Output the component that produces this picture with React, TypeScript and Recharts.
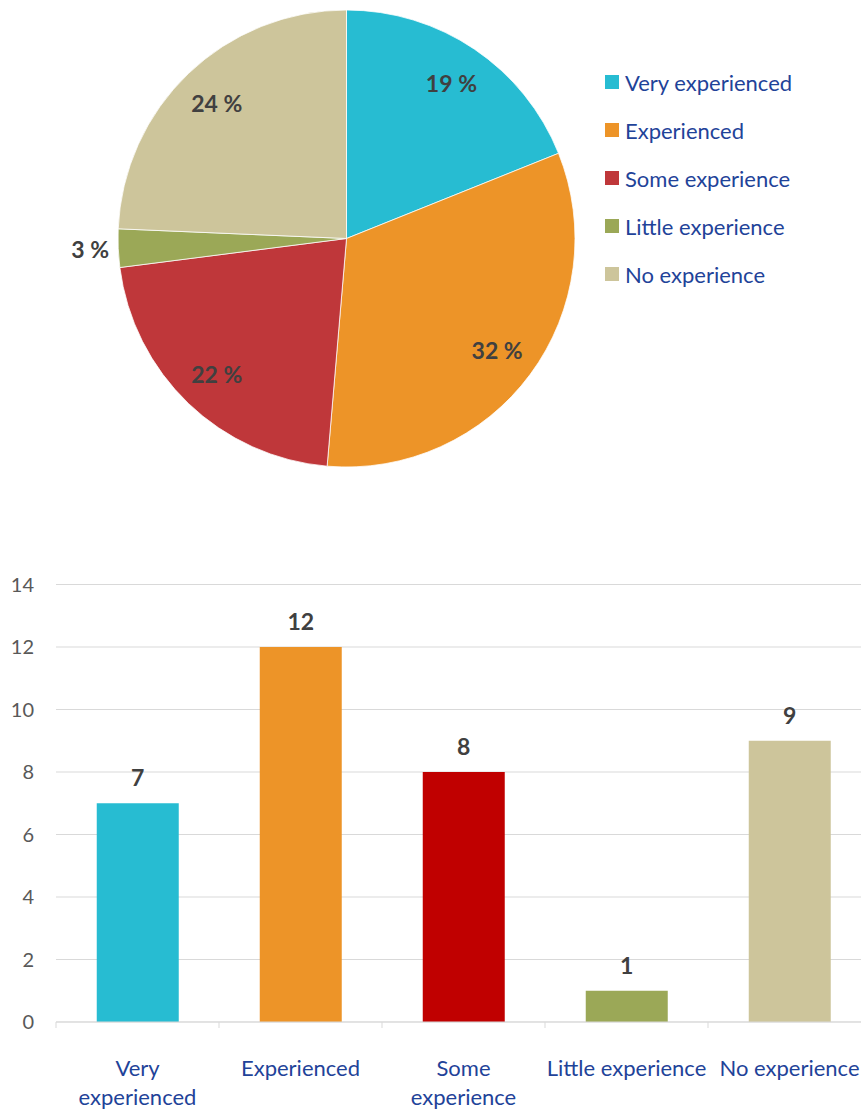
import React from "react";
import {
  PieChart,
  Pie,
  Cell,
  Legend,
  BarChart,
  Bar,
  XAxis,
  YAxis,
  CartesianGrid,
  LabelList,
} from "recharts";

const categories = [
  "Very experienced",
  "Experienced",
  "Some experience",
  "Little experience",
  "No experience",
];
const counts = [7, 12, 8, 1, 9];
const pieColors = ["#27BCD2", "#ED9428", "#BF373A", "#9BA857", "#CDC59B"];
const barColors = ["#27BCD2", "#ED9428", "#C00000", "#9BA857", "#CDC59B"];
const tickLines = [
  ["Very", "experienced"],
  ["Experienced"],
  ["Some", "experience"],
  ["Little experience"],
  ["No experience"],
];
const yTicks = [0, 2, 4, 6, 8, 10, 12, 14];

const FONT = "Lato, 'Open Sans', sans-serif";
const LABEL_COLOR = "#404040";
const TEXT_BLUE = "#1F4399";

const pieData = categories.map((name, i) => ({ name, value: counts[i], fill: pieColors[i] }));
const barData = categories.map((name, i) => ({ name, value: counts[i], fill: barColors[i] }));

const RADIAN = Math.PI / 180;

const renderPieLabel = (props: any) => {
  const { cx, cy, midAngle, outerRadius, percent } = props;
  const r = percent < 0.05 ? outerRadius + 28 : outerRadius * 0.82;
  const x = cx + r * Math.cos(-midAngle * RADIAN);
  const y = cy + r * Math.sin(-midAngle * RADIAN);
  return (
    <text
      x={x}
      y={y}
      fill={LABEL_COLOR}
      textAnchor="middle"
      dominantBaseline="central"
      fontFamily={FONT}
      fontWeight="bold"
      fontSize={23}
    >
      {`${Math.round(percent * 100)} %`}
    </text>
  );
};

const renderLegend = (props: any) => {
  const payload = [...(props.payload || [])].sort(
    (a: any, b: any) => categories.indexOf(a.value) - categories.indexOf(b.value)
  );
  return (
    <div style={{ fontFamily: FONT }}>
      {payload.map((entry: any, i: number) => (
        <div key={i} style={{ height: 48, display: "flex", alignItems: "center" }}>
          <span
            style={{
              width: 14,
              height: 14,
              background: entry.color || pieColors[i],
              display: "inline-block",
              marginRight: 6,
              flex: "none",
            }}
          />
          <span style={{ fontSize: 22, color: TEXT_BLUE, whiteSpace: "nowrap" }}>
            {entry.value}
          </span>
        </div>
      ))}
    </div>
  );
};

const PLOT_LEFT = 56;
const PLOT_WIDTH = 815;
const BAND = PLOT_WIDTH / categories.length;

const XTick = (props: any) => {
  const { x, y, index } = props;
  const lines = tickLines[index] || [String(props.payload?.value)];
  const bx = x - BAND / 2;
  return (
    <g>
      <line x1={bx} y1={y} x2={bx} y2={y + 6} stroke="#D9D9D9" strokeWidth={1} />
      <text
        x={x}
        y={y + 54}
        textAnchor="middle"
        fill={TEXT_BLUE}
        fontFamily={FONT}
        fontSize={22}
      >
        {lines.map((l: string, i: number) => (
          <tspan key={i} x={x} dy={i === 0 ? 0 : 29}>
            {l}
          </tspan>
        ))}
      </text>
    </g>
  );
};

export default function App() {
  return (
    <div
      style={{
        position: "absolute",
        left: 0,
        top: 0,
        width: 861,
        height: 1112,
        overflow: "hidden",
        background: "#fff",
      }}
    >
      <div style={{ position: "absolute", left: 0, top: 0 }}>
        <PieChart width={861} height={500} margin={{ top: 0, right: 0, bottom: 0, left: 0 }}>
          <Pie
            data={pieData}
            dataKey="value"
            nameKey="name"
            cx={346.5}
            cy={238.5}
            outerRadius={228.5}
            startAngle={90}
            endAngle={-270}
            stroke="#ffffff"
            strokeWidth={0.75}
            label={renderPieLabel}
            labelLine={false}
            isAnimationActive={false}
          >
            {pieData.map((d, i) => (
              <Cell key={i} fill={d.fill} />
            ))}
          </Pie>
          <Legend
            layout="vertical"
            itemSorter={null as any}
            content={renderLegend}
            wrapperStyle={{ position: "absolute", left: 605, top: 58, width: 256 }}
          />
        </PieChart>
      </div>
      <div style={{ position: "absolute", left: 0, top: 540 }}>
        <BarChart
          width={PLOT_LEFT + PLOT_WIDTH}
          height={572}
          data={barData}
          margin={{ top: 44.5, right: 0, bottom: 0, left: 0 }}
          barCategoryGap="25%"
        >
          <CartesianGrid vertical={false} stroke="#D9D9D9" strokeWidth={1} />
          <XAxis
            dataKey="name"
            height={90}
            axisLine={{ stroke: "#D9D9D9" }}
            tickLine={false}
            tickSize={0}
            tickMargin={0}
            interval={0}
            tick={<XTick />}
          />
          <YAxis
            width={PLOT_LEFT}
            domain={[0, 14]}
            ticks={yTicks}
            axisLine={false}
            tickLine={false}
            tickSize={0}
            tickMargin={22}
            tick={{ fill: "#595959", fontSize: 20, fontFamily: FONT }}
          />
          <Bar dataKey="value" isAnimationActive={false}>
            {barData.map((d, i) => (
              <Cell key={i} fill={d.fill} />
            ))}
            <LabelList
              dataKey="value"
              position="top"
              offset={17}
              fill={LABEL_COLOR}
              fontFamily={FONT}
              fontWeight="bold"
              fontSize={23}
            />
          </Bar>
        </BarChart>
      </div>
    </div>
  );
}
